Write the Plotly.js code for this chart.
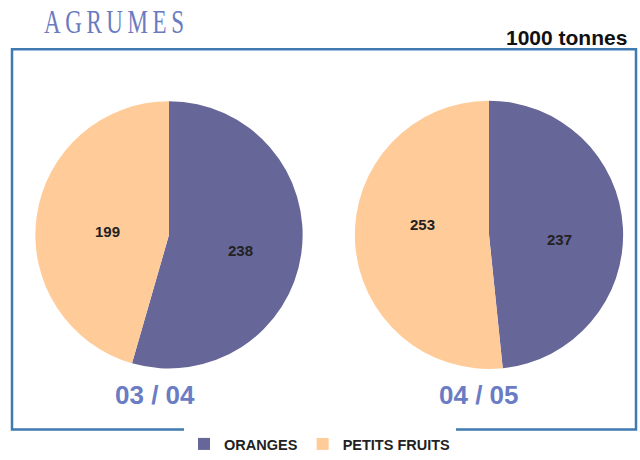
<!DOCTYPE html>
<html><head><meta charset="utf-8">
<script src="https://cdn.plot.ly/plotly-3.0.1.min.js"></script>
<style>html,body{margin:0;padding:0;background:#fff}</style>
</head><body>
<div id="chart" style="width:640px;height:460px"></div>
<script>
const categories = ["ORANGES", "PETITS FRUITS"];
const seasons = ["03 / 04", "04 / 05"];
const values0304 = [238, 199];
const values0405 = [237, 253];
const colors = ["#666699", "#ffcc99"];

const W = 640, H = 460;
const px = v => v / W, py = v => 1 - v / H;
const SANS = "Liberation Sans, Arial, sans-serif";

function pieTrace(vals, x0, x1, y0, y1, show) {
  return {
    type: "pie",
    labels: categories,
    values: vals,
    sort: false,
    direction: "clockwise",
    rotation: 0,
    marker: {colors: colors, line: {width: 0}},
    textinfo: "none",
    hoverinfo: "none",
    showlegend: show,
    domain: {x: [px(x0), px(x1)], y: [py(y1), py(y0)]}
  };
}

const data = [
  pieTrace(values0304, 33, 305, 103, 375, true),
  pieTrace(values0405, 352.5, 625.5, 102.5, 375.5, false)
];

// label anchor spots for the slice values (text comes from the data arrays)
const labelSpots = [
  [[240, 254.5], [107, 236]],
  [[559.5, 243.5], [422, 228]]
];
const allVals = [values0304, values0405];

const annotations = [
  {text: "A G R U M E S".replace(/ /g, "\u2009"), xref: "paper", yref: "paper", x: px(42), y: py(22),
   xanchor: "left", yanchor: "middle", showarrow: false,
   font: {family: "Liberation Serif, Times New Roman, serif", size: 34, color: "#6a7bc0"}},
  {text: "<b>1000 tonnes</b>", xref: "paper", yref: "paper", x: px(629), y: py(38),
   xanchor: "right", yanchor: "middle", showarrow: false,
   font: {family: SANS, size: 21, color: "#111111"}},
  {text: "<b>" + seasons[0] + "</b>", xref: "paper", yref: "paper", x: px(155), y: py(402),
   xanchor: "center", yanchor: "middle", showarrow: false,
   font: {family: SANS, size: 26, color: "#6a7cc4"}},
  {text: "<b>" + seasons[1] + "</b>", xref: "paper", yref: "paper", x: px(479), y: py(402),
   xanchor: "center", yanchor: "middle", showarrow: false,
   font: {family: SANS, size: 26, color: "#6a7cc4"}}
];
allVals.forEach((vals, p) => vals.forEach((v, i) => {
  annotations.push({text: "<b>" + v + "</b>", xref: "paper", yref: "paper",
    x: px(labelSpots[p][i][0]), y: py(labelSpots[p][i][1]),
    xanchor: "center", yanchor: "middle", showarrow: false,
    font: {family: SANS, size: 15, color: "#222222"}});
}));

const layout = {
  width: W, height: H,
  margin: {l: 0, r: 0, t: 0, b: 0},
  paper_bgcolor: "#ffffff",
  showlegend: true,
  legend: {
    orientation: "h", x: 0.5, xanchor: "center", y: py(452), yanchor: "middle",
    font: {family: SANS, size: 14.5, color: "#222222", weight: "bold"},
    traceorder: "normal", itemclick: false
  },
  shapes: [{
    type: "rect", xref: "paper", yref: "paper",
    x0: px(12), x1: px(636), y0: py(437), y1: py(50),
    line: {color: "#3f7bb0", width: 2.5}, fillcolor: "rgba(0,0,0,0)"
  }],
  annotations: annotations
};

Plotly.newPlot("chart", data, layout, {staticPlot: true, displayModeBar: false}).then(gd => {
  // condense the serif title horizontally to match the narrow lettering
  const t = gd.querySelector(".annotation text");
  if (t) {
    const bb = t.getBBox();
    const s = 140 / bb.width;
    t.setAttribute("transform", "translate(" + bb.x + ",0) scale(" + s + ",1) translate(" + (-bb.x) + ",0)");
  }
});
</script>
</body></html>
